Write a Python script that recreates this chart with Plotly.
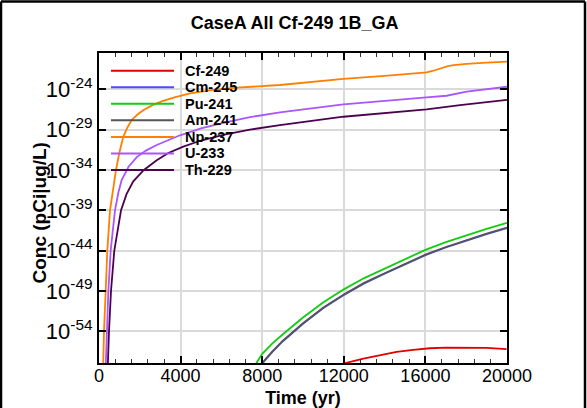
import plotly.graph_objects as go

# ---------------- data ----------------
series_names = ["Cf-249", "Cm-245", "Pu-241", "Am-241", "Np-237", "U-233", "Th-229"]
series_colors = ["#e00000", "#4b4bff", "#11cc11", "#555555", "#ff8000", "#aa55ff", "#4d0050"]

# log10 of concentration (pCi|ug/L) vs time (yr)
t_cf249 = [11000, 11980, 12960, 13800, 14590, 15400, 16225, 17000, 17860, 18200, 19000, 19980]
log_cf249 = [-59.5, -58.0, -57.4, -56.95, -56.55, -56.3, -56.1, -56.02, -56.0, -55.98, -56.05, -56.2]

t_pu241 = [7400, 7700, 8000, 8500, 9000, 10000, 11000, 12000, 13000, 14000, 15000, 16000, 17000, 18000, 19000, 20000]
log_pu241 = [-59.5, -58.0, -56.8, -55.5, -54.4, -52.3, -50.4, -48.8, -47.4, -46.2, -45.0, -43.9, -42.95, -42.1, -41.3, -40.55]

t_am241 = [7700, 7975, 8500, 9000, 10000, 11000, 12000, 13000, 14000, 15000, 16000, 17000, 18000, 19000, 20000]
log_am241 = [-59.5, -58.0, -56.5, -55.2, -53.0, -51.05, -49.45, -48.0, -46.8, -45.6, -44.5, -43.55, -42.7, -41.9, -41.15]

t_cm245 = t_am241
log_cm245 = [-59.56, -58.06, -56.56, -55.26, -53.06, -51.11, -49.51, -48.06, -46.86, -45.66, -44.56, -43.61, -42.76, -41.96, -41.21]

t_np237 = [150, 196, 245, 328, 407, 540, 680, 833, 995, 1190, 1400, 1600, 1900, 2170, 2600, 3070, 3700, 4460, 5500, 6750, 8870, 11980, 14000, 15500, 15800, 16060, 16390, 16700, 16880, 17100, 17370, 17700, 18025, 19005, 20000]
log_np237 = [-64.0, -58.0, -54.0, -49.0, -44.0, -39.0, -36.3, -34.0, -31.9, -29.9, -28.7, -27.8, -27.1, -26.6, -26.0, -25.5, -25.0, -24.5, -24.1, -23.8, -23.47, -22.72, -22.33, -22.05, -21.99, -21.9, -21.7, -21.45, -21.3, -21.12, -21.0, -20.92, -20.86, -20.70, -20.58]

t_u233 = [280, 328, 376, 458, 572, 784, 950, 1110, 1450, 1850, 2300, 2830, 3970, 5000, 6090, 7400, 8870, 11980, 16060, 16600, 17040, 18020, 19000, 20000]
log_u233 = [-62.0, -58.0, -54.0, -49.0, -44.0, -39.0, -36.8, -35.25, -33.6, -32.4, -31.6, -30.9, -29.7, -28.85, -28.15, -27.45, -26.85, -25.86, -25.0, -24.93, -24.8, -24.3, -23.96, -23.68]

t_th229 = [380, 425, 490, 588, 750, 1080, 1350, 1680, 2200, 2830, 3400, 4130, 5000, 6090, 7400, 8870, 11980, 16060, 17700, 20000]
log_th229 = [-62.0, -58.0, -54.0, -49.0, -44.0, -39.0, -37.0, -35.4, -34.0, -32.8, -31.9, -31.1, -30.35, -29.65, -29.0, -28.45, -27.4, -26.5, -25.95, -25.3]

series_t = [t_cf249, t_cm245, t_pu241, t_am241, t_np237, t_u233, t_th229]
series_log = [log_cf249, log_cm245, log_pu241, log_am241, log_np237, log_u233, log_th229]

# axis ticks
y_tick_exponents = [-24, -29, -34, -39, -44, -49, -54]
y_tick_labels = ["10<sup>%d</sup>" % e for e in y_tick_exponents]
x_tick_values = [0, 4000, 8000, 12000, 16000, 20000]
x_tick_labels = ["0", "4000", "8000", "12000", "16000", "20000"]

# ---------------- figure ----------------
W, H = 587, 408
ML, MR, MT, MB = 99, 80, 53, 45
PW, PH = W - ML - MR, H - MT - MB

fig = go.Figure()
order = [4, 5, 6, 2, 1, 3, 0]
for i in order:
    fig.add_trace(go.Scatter(
        x=series_t[i],
        y=[10 ** v for v in series_log[i]],
        mode="lines",
        name=series_names[i],
        line=dict(color=series_colors[i], width=1.8),
        showlegend=False,
        hoverinfo="skip",
    ))

FONT = "Arial, Liberation Sans, sans-serif"

def px_to_paper_x(px):
    return (px - ML) / PW

def px_to_paper_y(py):
    return (H - MB - py) / PH

shapes = []
annotations = []

# legend (inside plot, top-left)
for k, name in enumerate(series_names):
    yy = px_to_paper_y(70.7 + k * 16.55)
    shapes.append(dict(type="line", xref="paper", yref="paper",
                       x0=px_to_paper_x(111), x1=px_to_paper_x(174), y0=yy, y1=yy,
                       line=dict(color=series_colors[k], width=2)))
    annotations.append(dict(text="<b>%s</b>" % name, xref="paper", yref="paper",
                            x=px_to_paper_x(183), y=yy, xanchor="left", yanchor="middle",
                            showarrow=False, font=dict(family=FONT, size=14.5, color="black")))

# y-axis title
annotations.append(dict(text="<b>Conc (pCi|ug/L)</b>", xref="paper", yref="paper",
                        x=px_to_paper_x(38.5), y=px_to_paper_y(213), textangle=-90,
                        xanchor="center", yanchor="middle", showarrow=False,
                        font=dict(family=FONT, size=19, color="black")))

# outer figure border (left, top, right)
bl, bt, br = px_to_paper_x(1), px_to_paper_y(1.5), px_to_paper_x(585)
bb = px_to_paper_y(408)
for (x0, y0, x1, y1) in [(bl, bb, bl, bt), (bl, bt, br, bt), (br, bt, br, bb)]:
    shapes.append(dict(type="line", xref="paper", yref="paper", x0=x0, y0=y0, x1=x1, y1=y1,
                       line=dict(color="black", width=2.5)))

fig.update_layout(
    width=W, height=H,
    margin=dict(l=ML, r=MR, t=MT, b=MB, pad=0),
    paper_bgcolor="white", plot_bgcolor="white",
    font=dict(family=FONT, color="black"),
    title=dict(text="<b>CaseA All Cf-249 1B_GA</b>", x=0.502, xref="container",
               y=1 - 23 / H, yref="container", xanchor="center", yanchor="middle",
               font=dict(family=FONT, size=18, color="black")),
    shapes=shapes,
    annotations=annotations,
    showlegend=False,
    hovermode=False,
)

fig.update_xaxes(
    range=[0, 20000], tickmode="array", tickvals=x_tick_values, ticktext=x_tick_labels,
    ticks="inside", ticklen=7, tickwidth=1.5, tickcolor="black",
    minor=dict(dtick=800, tick0=0, ticks="inside", ticklen=4, tickwidth=1.2, tickcolor="#333333", showgrid=False),
    showgrid=True, gridcolor="#dadada", gridwidth=1.5,
    showline=True, linecolor="black", linewidth=2, mirror="ticks",
    tickfont=dict(family=FONT, size=18, color="black"),
    ticklabelstandoff=-5,
    title=dict(text="<b>Time (yr)</b>", font=dict(family=FONT, size=18, color="black"), standoff=7),
    zeroline=False, automargin=False,
)
fig.update_yaxes(
    type="log", range=[-57.93, -19.5],
    tickmode="array", tickvals=[10.0 ** e for e in y_tick_exponents], ticktext=y_tick_labels,
    ticks="inside", ticklen=7, tickwidth=1.5, tickcolor="black",
    showgrid=True, gridcolor="#dadada", gridwidth=1.5,
    showline=True, linecolor="black", linewidth=2, mirror="ticks",
    tickfont=dict(family=FONT, size=22, color="black"),
    zeroline=False, automargin=False,
)

fig.write_html("out.html", config={"displayModeBar": False},
               post_script="document.body.style.margin='0';document.body.style.overflow='hidden';")
